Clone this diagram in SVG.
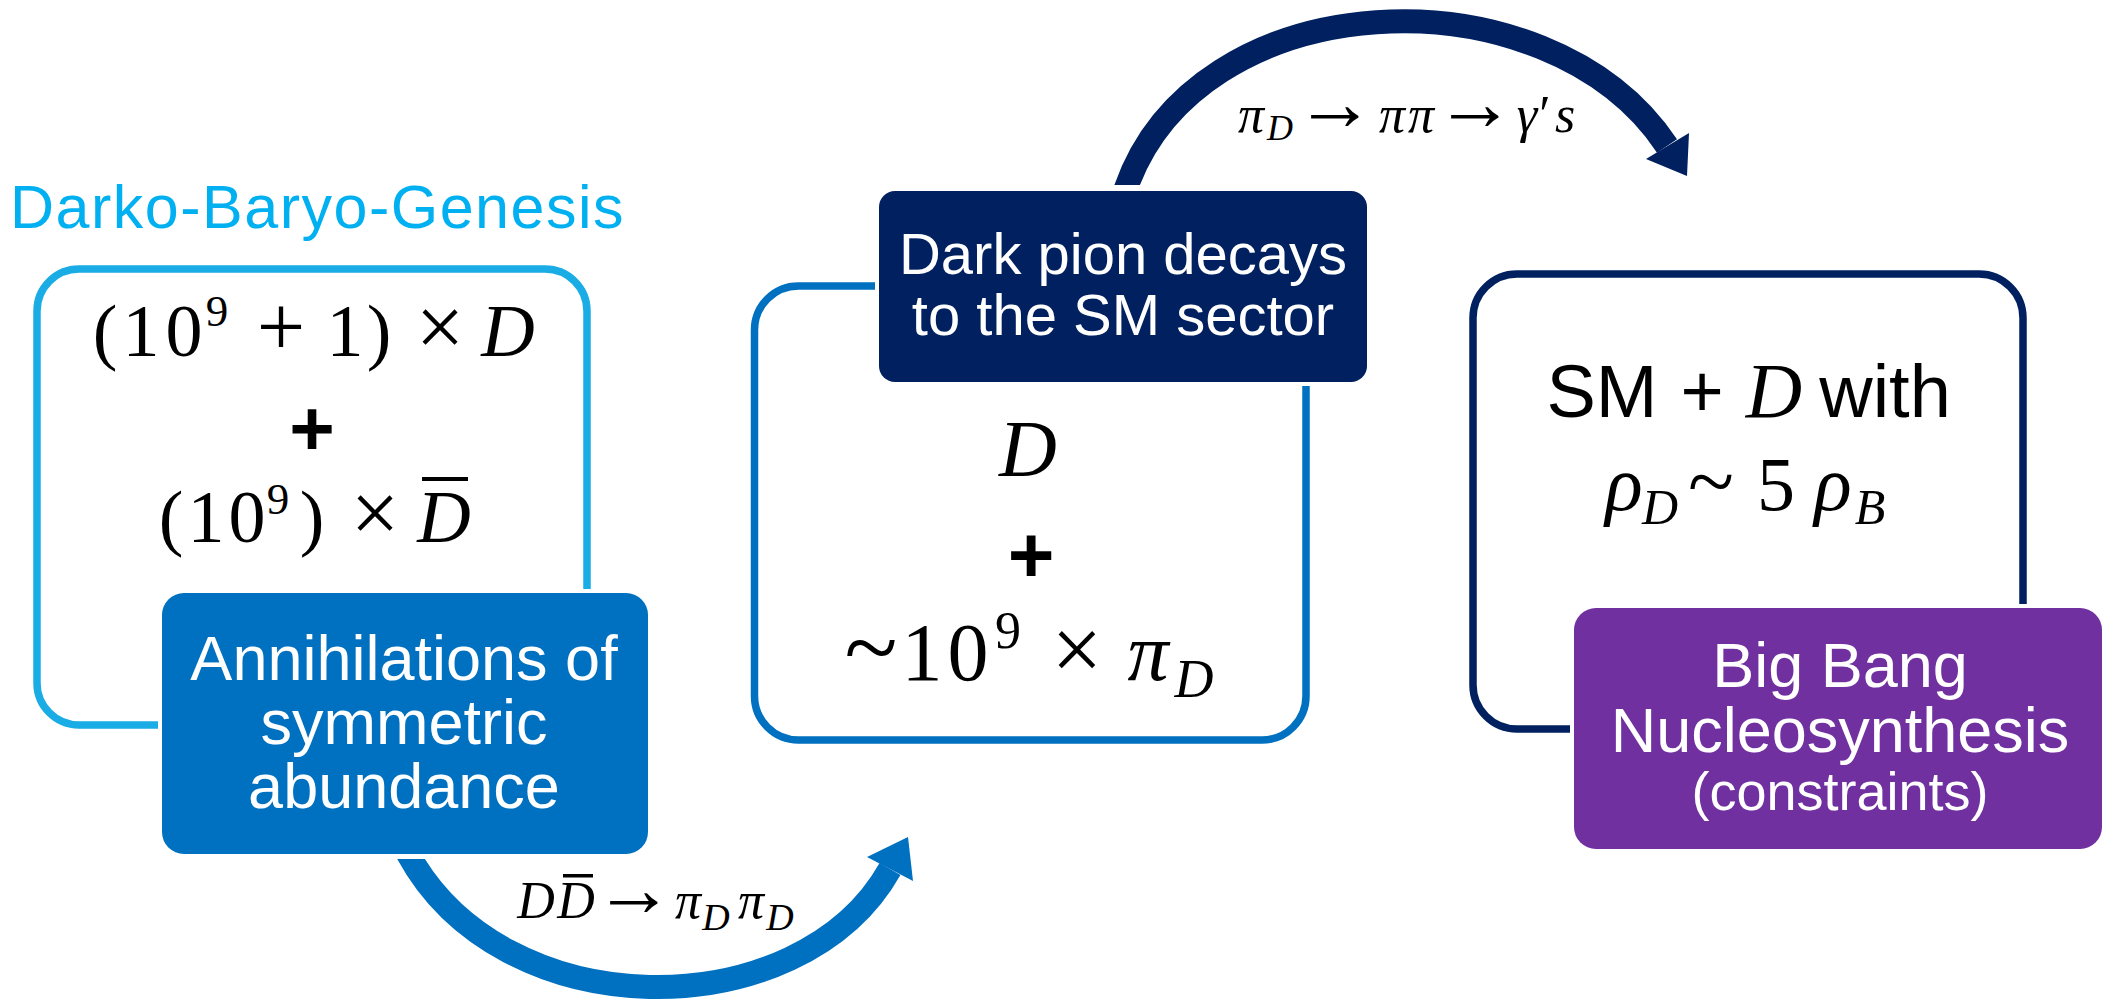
<svg xmlns="http://www.w3.org/2000/svg" width="2104" height="1002" viewBox="0 0 2104 1002">
<defs>
<style>
.sans{font-family:"Liberation Sans",Arial,sans-serif;}
.math{font-family:"Liberation Serif","DejaVu Serif",serif;}
.it{font-style:italic;}
.wt{fill:#ffffff;}
.bk{fill:#000000;}
.outline{fill:none;stroke-width:7.5;}
.filled{stroke:#ffffff;stroke-width:8;paint-order:stroke;}
.arr{font-size:80px;}
</style>
<clipPath id="clipB"><rect x="300" y="859" width="700" height="200"/></clipPath>
<clipPath id="clipT"><rect x="1000" y="-60" width="800" height="245"/></clipPath>
</defs>
<rect x="0" y="0" width="2104" height="1002" fill="#ffffff"/>

<g id="title">
<text class="sans" x="10" y="228" font-size="61" letter-spacing="1.5" fill="#00B0F0">Darko-Baryo-Genesis</text>
</g>

<g id="node-initial">
<rect class="outline" x="37" y="269" width="550" height="456" rx="42" stroke="#1AACE4"/>
<text class="math bk" y="356" font-size="74" text-anchor="middle"><tspan x="105">(</tspan><tspan x="141">1</tspan><tspan x="184">0</tspan><tspan x="217" y="326" font-size="45">9</tspan><tspan x="281" y="356" font-size="86">+</tspan><tspan x="345">1</tspan><tspan x="379">)</tspan><tspan x="440" font-size="86">×</tspan><tspan x="508" class="it">D</tspan></text>
<text class="sans bk" x="312" y="455" font-size="78" font-weight="bold" text-anchor="middle">+</text>
<text class="math bk" y="542" font-size="74" text-anchor="middle"><tspan x="171">(</tspan><tspan x="206">1</tspan><tspan x="247">0</tspan><tspan x="278" y="514" font-size="45">9</tspan><tspan x="312" y="542">)</tspan><tspan x="375" font-size="86">×</tspan><tspan x="444" class="it">D</tspan></text>
<rect x="422" y="477" width="46" height="4" fill="#000000"/>
</g>

<g id="node-annihilation">
<rect class="filled" x="162" y="593" width="486" height="261" rx="22" fill="#0070C0"/>
<text class="sans wt" font-size="63" text-anchor="middle"><tspan x="404" y="680">Annihilations of</tspan><tspan x="404" y="744">symmetric</tspan><tspan x="404" y="808">abundance</tspan></text>
</g>

<g id="node-mid">
<rect class="outline" x="754.5" y="286" width="551.5" height="454" rx="44" stroke="#0070C0"/>
<text class="math it bk" x="1028" y="476" font-size="80" text-anchor="middle">D</text>
<text class="sans bk" x="1031" y="582" font-size="80" font-weight="bold" text-anchor="middle">+</text>
<text class="math bk" y="680" font-size="82" text-anchor="middle"><tspan x="871" font-size="98">~</tspan><tspan x="922">1</tspan><tspan x="968">0</tspan><tspan x="1008" y="648" font-size="52">9</tspan><tspan x="1077" y="680" font-size="90">×</tspan><tspan x="1148" class="it">π</tspan><tspan x="1194" y="697" font-size="54" class="it">D</tspan></text>
</g>

<g id="node-decay">
<rect class="filled" x="879" y="191" width="488" height="191" rx="16" fill="#002060"/>
<text class="sans wt" font-size="58" text-anchor="middle"><tspan x="1123" y="274">Dark pion decays</tspan><tspan x="1123" y="335">to the SM sector</tspan></text>
</g>

<g id="node-final">
<rect class="outline" x="1473" y="274" width="550" height="455" rx="44" stroke="#002060"/>
<text class="sans bk" y="417" font-size="74" text-anchor="middle"><tspan x="1602">SM</tspan><tspan x="1702">+</tspan></text>
<text class="math it bk" x="1774" y="417" font-size="78" text-anchor="middle">D</text>
<text class="sans bk" x="1885" y="417" font-size="74" text-anchor="middle">with</text>
<text class="math bk" y="510" font-size="78" text-anchor="middle"><tspan x="1624" class="it">ρ</tspan><tspan x="1660" y="524" font-size="50" class="it">D</tspan><tspan x="1711" y="510" font-size="85">~</tspan><tspan x="1776" font-size="76">5</tspan><tspan x="1833" class="it">ρ</tspan><tspan x="1870" y="524" font-size="50" class="it">B</tspan></text>
</g>

<g id="node-bbn">
<rect class="filled" x="1574" y="608" width="528" height="241" rx="22" fill="#7030A0"/>
<text class="sans wt" text-anchor="middle"><tspan x="1840" y="687" font-size="63">Big Bang</tspan><tspan x="1840" y="752" font-size="63">Nucleosynthesis</tspan><tspan x="1840" y="810" font-size="54">(constraints)</tspan></text>
</g>

<g id="connectors">
<g id="edge-annihilation-mid">
<path d="M 406 850 C 500 1030 800 1029 890 869" fill="none" stroke="#0070C0" stroke-width="24" clip-path="url(#clipB)"/>
<polygon points="867,857 908,837 913,881" fill="#0070C0"/>
<text class="math bk" y="918" font-size="52" text-anchor="middle"><tspan x="536" class="it">D</tspan><tspan x="576" class="it">D</tspan><tspan x="634" y="916" class="arr">→</tspan><tspan x="688" y="918" class="it">π</tspan><tspan x="716" y="930" font-size="38" class="it">D</tspan><tspan x="751" y="918" class="it">π</tspan><tspan x="780" y="930" font-size="38" class="it">D</tspan></text>
<rect x="563" y="874" width="30" height="3.5" fill="#000000"/>
</g>
<g id="edge-decay-final">
<path d="M 1124 194 C 1193 -20 1547 -34 1667 146" fill="none" stroke="#002060" stroke-width="24" clip-path="url(#clipT)"/>
<polygon points="1646,159 1689,133 1687,176" fill="#002060"/>
<text class="math bk" y="132" font-size="52" text-anchor="middle"><tspan x="1251" class="it">π</tspan><tspan x="1280" y="140" font-size="36" class="it">D</tspan><tspan x="1335" y="130" class="arr">→</tspan><tspan x="1392" y="132" class="it">π</tspan><tspan x="1421" class="it">π</tspan><tspan x="1475" y="130" class="arr">→</tspan><tspan x="1527" y="132" class="it">γ</tspan><tspan x="1545">′</tspan><tspan x="1565" class="it">s</tspan></text>
</g>
</g>
</svg>
